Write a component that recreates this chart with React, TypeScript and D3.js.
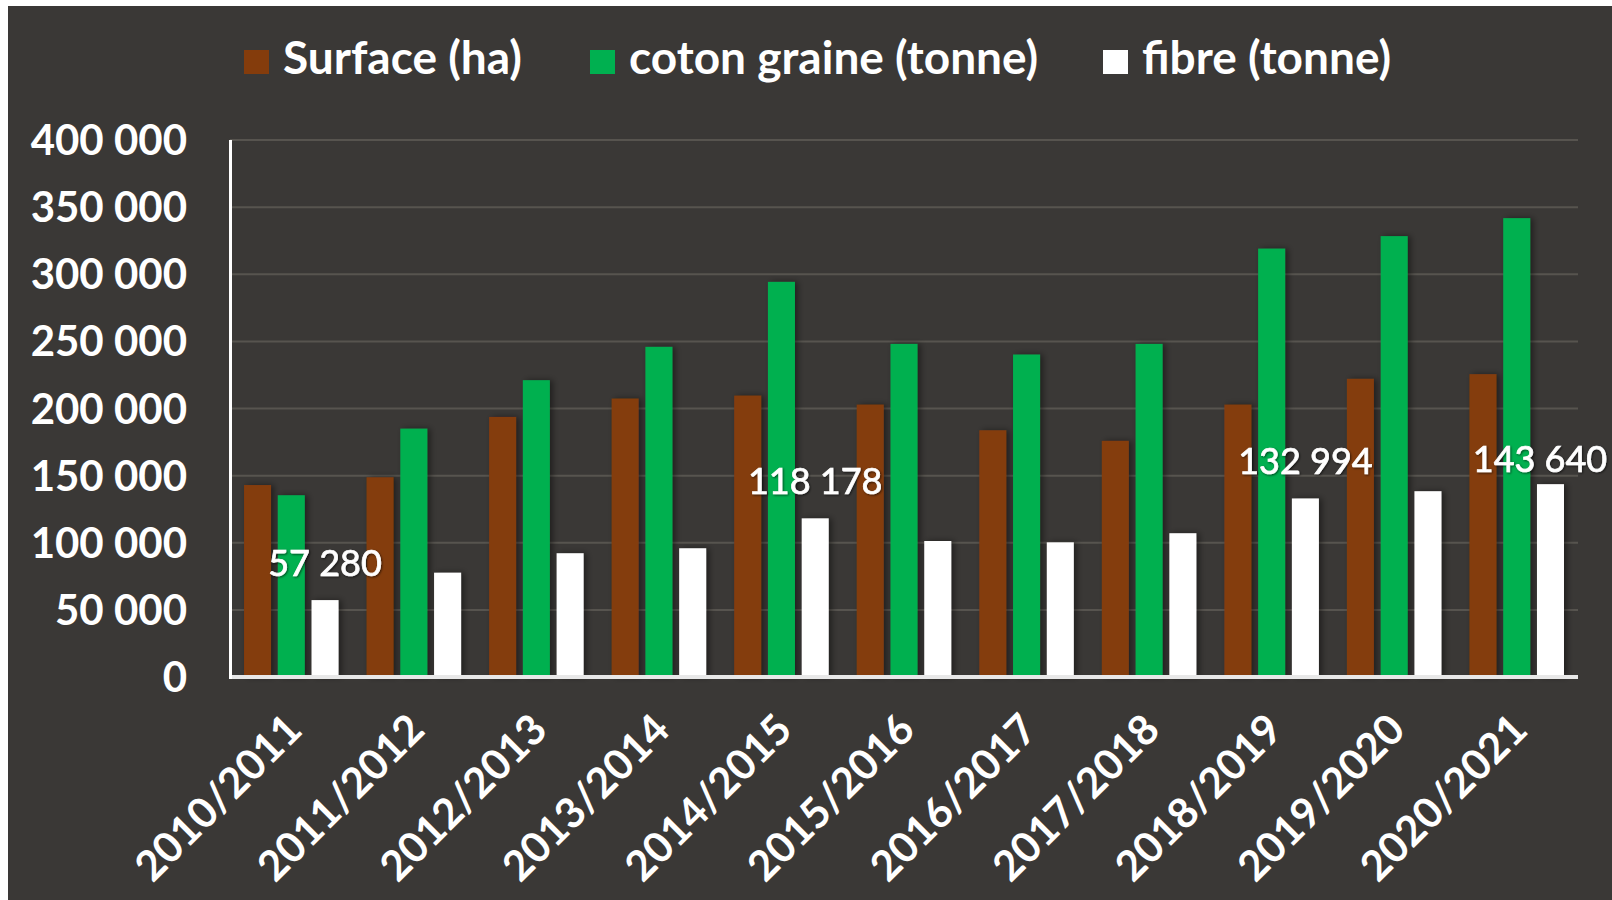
import * as d3 from "d3";

// campaign years on the x axis
const campaigns = [
	"2010/2011",
	"2011/2012",
	"2012/2013",
	"2013/2014",
	"2014/2015",
	"2015/2016",
	"2016/2017",
	"2017/2018",
	"2018/2019",
	"2019/2020",
	"2020/2021",
];

// series values
const surface = [143000, 148800, 193700, 207400, 209600, 202900, 183800, 175900, 202900, 222100, 225600];
const cotonGraine = [135400, 185000, 221100, 245900, 294300, 248100, 240200, 248100, 319100, 328400, 341800];
const fibre = [57280, 77700, 92200, 95900, 118178, 101300, 100300, 107100, 132994, 138400, 143640];

const seriesNames = ["Surface (ha)", "coton graine (tonne)", "fibre (tonne)"];
const seriesColors = ["#843C0C", "#00B050", "#FFFFFF"];

// only these campaigns carry a value label on the fibre bar
const labelledCampaigns = ["2010/2011", "2014/2015", "2018/2019", "2020/2021"];

const yTicks = [0, 50000, 100000, 150000, 200000, 250000, 300000, 350000, 400000];

const WIDTH = 1604;
const HEIGHT = 894;
// the panel sits at (8,6) on the page, so subtract that from page coordinates
const OX = 8;
const OY = 6;
const margin = { left: 230 - OX, right: WIDTH - (1578 - OX), top: 140 - OY, bottom: HEIGHT - (677 - OY) };

const FONT = "Lato, 'Open Sans', sans-serif";
const BG = "#3A3836";

const fr = d3.formatLocale({ decimal: ",", thousands: "\u00a0", grouping: [3], currency: ["", ""] });
const fmt = (v: number) => fr.format(",d")(v).replace(/\u00a0/g, " ");

export default function App() {
	const table = campaigns.map((c, i) => ({
		campaign: c,
		values: [surface[i], cotonGraine[i], fibre[i]],
	}));

	const x0 = d3
		.scaleBand<string>()
		.domain(campaigns)
		.range([margin.left, WIDTH - margin.right])
		.padding(0);

	const x1 = d3
		.scaleBand<number>()
		.domain([0, 1, 2])
		.range([0, x0.bandwidth()])
		.paddingInner(0.2)
		.paddingOuter(0.415);

	const y = d3
		.scaleLinear()
		.domain([0, 400000])
		.range([HEIGHT - margin.bottom, margin.top]);

	const legendX = [244 - OX, 590 - OX, 1103 - OX];

	return (
		<div
			style={{
				position: "fixed",
				left: OX,
				top: OY,
				width: WIDTH,
				height: HEIGHT,
				background: BG,
			}}
		>
			<svg width={WIDTH} height={HEIGHT} style={{ display: "block" }} fontFamily={FONT}>
				<defs>
					<filter id="barShadow" x="-50%" y="-10%" width="200%" height="120%">
						<feDropShadow dx="3" dy="0" stdDeviation="3" floodColor="#000" floodOpacity="0.45" />
					</filter>
					<filter id="textShadow" x="-10%" y="-20%" width="120%" height="140%">
						<feDropShadow dx="1" dy="1" stdDeviation="1" floodColor="#000" floodOpacity="0.6" />
					</filter>
				</defs>

				{/* legend */}
				{seriesNames.map((name, i) => (
					<g key={name} transform={`translate(${legendX[i]}, ${74 - OY})`}>
						<rect x={0} y={-24} width={25} height={24} fill={seriesColors[i]} />
						<text x={39} y={0} fill="#fff" fontSize={46} fontWeight={700}>
							{name}
						</text>
					</g>
				))}

				{/* gridlines */}
				{yTicks.slice(1).map((t) => (
					<line
						key={t}
						x1={margin.left}
						x2={WIDTH - margin.right}
						y1={y(t)}
						y2={y(t)}
						stroke="#57544F"
						strokeWidth={2}
					/>
				))}

				{/* y tick labels */}
				{yTicks.map((t) => (
					<text
						key={t}
						x={187 - OX}
						y={y(t)}
						dy="0.36em"
						textAnchor="end"
						fill="#fff"
						fontSize={42}
						fontWeight={700}
					>
						{fmt(t)}
					</text>
				))}

				{/* bars */}
				{table.map((d) => (
					<g key={d.campaign} transform={`translate(${x0(d.campaign)}, 0)`}>
						{d.values.map((v, i) => (
							<rect
								key={i}
								x={x1(i)}
								y={y(v)}
								width={x1.bandwidth()}
								height={y(0) - y(v)}
								fill={seriesColors[i]}
								filter="url(#barShadow)"
							/>
						))}
					</g>
				))}

				{/* axes */}
				<line
					x1={margin.left}
					x2={WIDTH - margin.right}
					y1={y(0)}
					y2={y(0)}
					stroke="#E8E8E8"
					strokeWidth={4}
				/>
				<line
					x1={margin.left + 0.5}
					x2={margin.left + 0.5}
					y1={y(400000)}
					y2={y(0) + 2}
					stroke="#fff"
					strokeWidth={3}
				/>

				{/* data labels on the fibre bars */}
				{table
					.filter((d) => labelledCampaigns.includes(d.campaign))
					.map((d) => {
						const v = d.values[2];
						const cx = (x0(d.campaign) ?? 0) + (x1(2) ?? 0) + x1.bandwidth() / 2;
						const halfW = 68;
						const limit = WIDTH - 4 - halfW;
						const clamped = cx > limit;
						return (
							<text
								key={d.campaign}
								x={clamped ? limit : cx}
								y={y(v) - (clamped ? 12 : 24)}
								textAnchor="middle"
								fill="#fff"
								stroke="#fff"
								strokeWidth={0.7}
								fontSize={36}
								fontWeight={400}
								filter="url(#textShadow)"
							>
								{fmt(v)}
							</text>
						);
					})}

				{/* x tick labels */}
				{campaigns.map((c) => {
					const cx = (x0(c) ?? 0) + x0.bandwidth() / 2;
					return (
						<text
							key={c}
							transform={`translate(${cx + 13}, ${732 - OY}) rotate(-45)`}
							textAnchor="end"
							fill="#fff"
							fontSize={42}
							fontWeight={700}
						>
							{c}
						</text>
					);
				})}
			</svg>
		</div>
	);
}
